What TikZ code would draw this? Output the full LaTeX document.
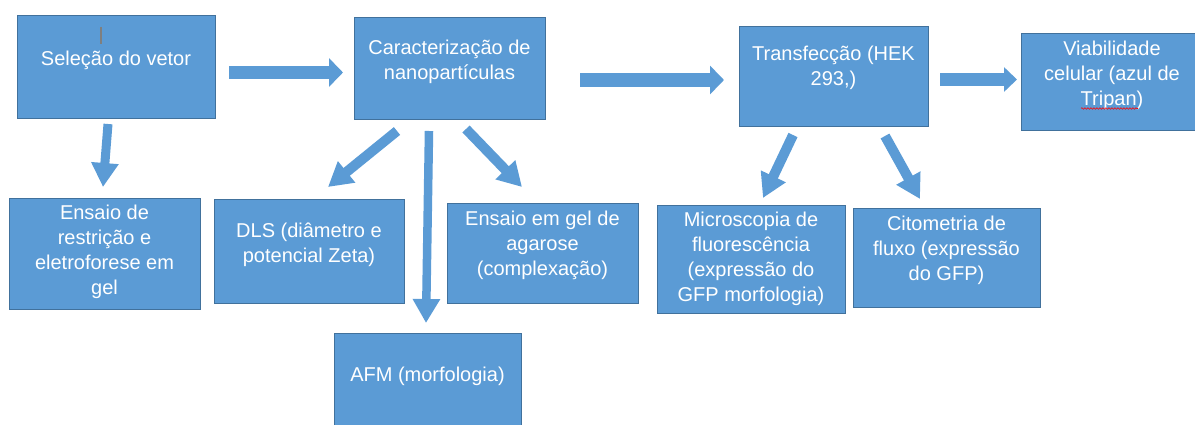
\documentclass[tikz,border=0pt]{standalone}
\usepackage{fontspec}
\setmainfont{Liberation Sans}
\usetikzlibrary{arrows.meta,decorations.pathmorphing}
\definecolor{boxblue}{HTML}{5B9BD5}
\definecolor{boxedge}{HTML}{41719C}
\definecolor{caretgray}{HTML}{7F7F7F}
\begin{document}
\begin{tikzpicture}[x=1pt,y=-1pt,
  boxnode/.style={draw=boxedge, fill=boxblue, line width=1pt, inner sep=0pt, anchor=north west},
  txt/.style={text=white, font=\fontsize{20}{25}\selectfont, align=center, inner sep=0pt},
  bigarrow/.style={draw=boxblue, line width=13.5pt, line cap=butt, -{Triangle[length=14pt,width=28pt]}},
  thinarrow/.style={draw=boxblue, line width=10pt, line cap=butt, -{Triangle[length=24pt,width=26pt]}}]
\useasboundingbox (0,0) rectangle (1195,425);
% boxes
\node[boxnode, minimum width=198pt, minimum height=103pt] (b1) at (17,15) {};
\node[boxnode, minimum width=191pt, minimum height=102pt] (b2) at (354,17) {};
\node[boxnode, minimum width=189pt, minimum height=100pt] (b3) at (739,26) {};
\node[boxnode, minimum width=185pt, minimum height=97pt] (b4) at (1021,33) {};
\node[boxnode, minimum width=191pt, minimum height=111pt] (b5) at (9,198) {};
\node[boxnode, minimum width=190pt, minimum height=104pt] (b6) at (214,199) {};
\node[boxnode, minimum width=191pt, minimum height=100pt] (b7) at (447,203) {};
\node[boxnode, minimum width=187pt, minimum height=115pt] (b8) at (334,333) {};
\node[boxnode, minimum width=188pt, minimum height=108pt] (b9) at (657,205) {};
\node[boxnode, minimum width=187pt, minimum height=99pt] (b10) at (853,208) {};
% texts
\node[txt] (t1) at (116,60) {Seleção do vetor};
\node[txt] (t2) at (449.5,61.5) {Caracterização de\\nanopartículas};
\node[txt] (t3) at (833.5,67.5) {Transfecção (HEK\\293,)};
\node[txt] (t4) at (1112,75.5) {Viabilidade\\celular (azul de\\Tripan)};
\node[txt] (t5) at (104.5,252) {Ensaio de\\restrição e\\eletroforese em\\gel};
\node[txt] (t6) at (309,244.5) {DLS (diâmetro e\\potencial Zeta)};
\node[txt] (t7) at (542.5,245) {Ensaio em gel de\\agarose\\(complexação)};
\node[txt] (t8) at (427.5,376) {AFM (morfologia)};
\node[txt] (t9) at (751,258.5) {Microscopia de\\fluorescência\\(expressão do\\GFP morfologia)};
\node[txt] (t10) at (946.5,250) {Citometria de\\fluxo (expressão\\do GFP)};
% caret and spell-check underline
\draw[caretgray, line width=1.2pt] (101,27) -- (101,44);
\draw[red, line width=0.6pt, decorate, decoration={snake, amplitude=0.8pt, segment length=3pt}] (1081,108.5) -- (1138,108.5);
% arrow end points
\coordinate (a1s) at (229,72.5);  \coordinate (a1e) at (343,72.5);
\coordinate (a2s) at (580,80);    \coordinate (a2e) at (724,80);
\coordinate (a3s) at (940,79.5);  \coordinate (a3e) at (1017,79.5);
\coordinate (a4s) at (108,124);   \coordinate (a4e) at (103,187);
\coordinate (a5s) at (397,131);   \coordinate (a5e) at (328,187);
\coordinate (a6s) at (429,131);   \coordinate (a6e) at (426,323);
\coordinate (a7s) at (466,129);   \coordinate (a7e) at (522,187);
\coordinate (a8s) at (793,135);   \coordinate (a8e) at (763,198);
\coordinate (a9s) at (885,136);   \coordinate (a9e) at (920,199);
% arrows
\draw[bigarrow] (a1s) -- (a1e);
\draw[bigarrow] (a2s) -- (a2e);
\draw[bigarrow, -{Triangle[length=13pt,width=24pt]}] (a3s) -- (a3e);
\draw[thinarrow, line width=9pt] (a4s) -- (a4e);
\draw[thinarrow] (a5s) -- (a5e);
\draw[thinarrow, line width=8.5pt] (a6s) -- (a6e);
\draw[thinarrow] (a7s) -- (a7e);
\draw[thinarrow] (a8s) -- (a8e);
\draw[thinarrow] (a9s) -- (a9e);
\end{tikzpicture}
\end{document}
